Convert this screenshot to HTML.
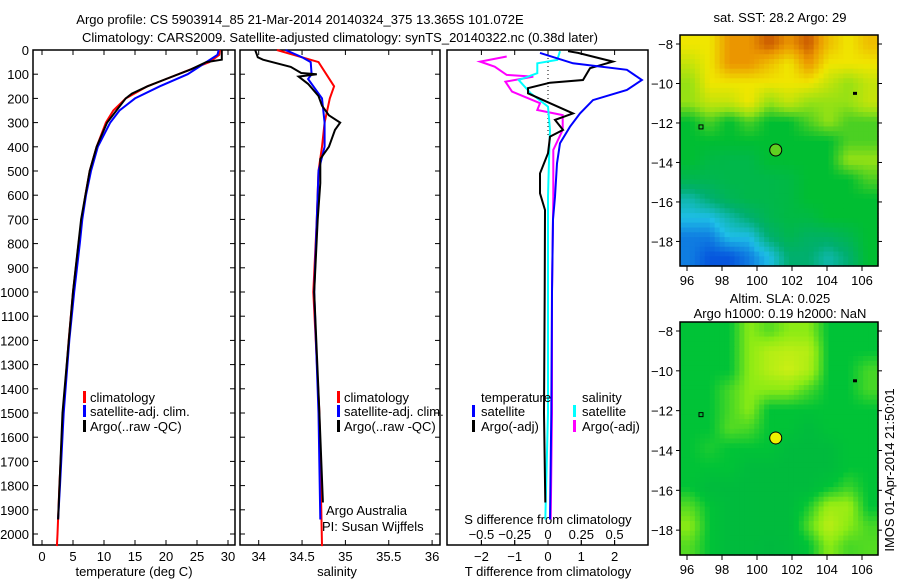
<!DOCTYPE html>
<html><head><meta charset="utf-8"><style>
html,body{margin:0;padding:0;background:#fff;}
svg{display:block;font-family:"Liberation Sans",sans-serif;}
text{font-size:13px;fill:#000;}
</style></head><body>
<svg id="c" width="900" height="580" viewBox="0 0 900 580"></svg>
<script>
// ---------- data ----------
const tempDepth = [0,20,50,100,130,150,200,250,300,400,500,600,700,800,1000,1200,1500,1800,2000,2050];
const tempClim  = [28.7,28.6,27,22,19,17,13.5,11.5,10.3,8.8,7.7,7,6.4,5.9,5,4.3,3.4,2.8,2.5,2.4];
const tempSatDepth = [0,20,50,100,150,200,250,300,400,500,600,700,800,1000,1200,1500,1800,1940];
const tempSat   = [28.5,28.3,26.5,23.5,19,15,12.5,11,9,7.9,7.1,6.5,6.1,5.2,4.4,3.5,2.9,2.6];
const tempArgoDepth = [0,40,50,80,120,150,180,200,300,400,500,700,1000,1500,1940];
const tempArgo  = [29,29,26.5,24,20,17,14.5,13.5,10.5,8.8,7.7,6.3,5,3.3,2.6];

const salClimDepth = [0,50,150,200,300,400,500,700,1000,1500,2050];
const salClim   = [34.21,34.69,34.87,34.82,34.76,34.73,34.69,34.67,34.63,34.7,34.73];
const salSatDepth = [0,30,50,100,120,200,300,400,500,700,1000,1500,1940];
const salSat    = [34.31,34.5,34.6,34.61,34.57,34.73,34.76,34.76,34.69,34.67,34.64,34.69,34.71];
const salArgoDepth = [0,30,40,70,95,100,110,140,190,230,270,300,330,400,450,550,700,1000,1500,1870];
const salArgo   = [33.96,33.99,34.05,34.37,34.49,34.67,34.46,34.57,34.69,34.73,34.81,34.94,34.88,34.81,34.71,34.71,34.68,34.64,34.7,34.74];

const dTSatDepth = [12,55,82,124,165,207,262,317,385,468,606,700,1000,1500,1940];
const dTSat     = [-0.24,0.75,2.37,2.82,2.37,1.35,0.96,0.66,0.36,0.27,0.21,0.15,0.12,0.1,0.06];
const dTArgoDepth = [5,12,48,55,75,124,135,158,179,220,262,289,330,358,427,510,592,661,1000,1500,1870];
const dTArgo    = [0.6,0.9,1.95,1.77,1.26,1.05,0.06,-0.6,-0.6,0.06,0.75,0.21,0.45,0.06,0,-0.24,-0.24,-0.09,-0.1,-0.12,-0.08];
const dSSatDepth = [5,41,55,96,124,179,234,330,413,606,1000,1500,1940];
const dSSat     = [0.09,0.07,-0.08,-0.08,-0.22,-0.13,0,0.015,0.01,0,0,0,-0.02];
const dSArgoDepth = [27,48,69,103,110,131,172,220,248,269,330,413,606,1000,1500,1940];
const dSArgo    = [-0.31,-0.51,-0.4,-0.31,-0.11,-0.32,-0.27,-0.06,-0.08,0.11,0.11,0.04,0.04,0.03,0.03,0.02];

const depthTicks = [0,100,200,300,400,500,600,700,800,900,1000,1100,1200,1300,1400,1500,1600,1700,1800,1900,2000];
const tempTicks = [0,5,10,15,20,25,30];
const salTicks = [34,34.5,35,35.5,36];
const dTTicks = [-2,-1,0,1,2];
const dSTicks = [-0.5,-0.25,0,0.25,0.5];
const lonTicks = [96,98,100,102,104,106];
const latTicks = [-8,-10,-12,-14,-16,-18];

// SST grid rows (north to south), cols (west to east); colour index 0..7
const sstGrid = [
[5,5,6,6,6.5,6,6.5,5.5,5,5.5],
[4.5,5,6,6,5.5,5,6,5,5,5],
[4,5,5,5,5,5,5,4.5,4,4.5],
[4,4.5,4.5,5,4,4.5,4,4,4,4.5],
[3,3.5,3,3.5,3,3,3.5,4,3.5,3.5],
[3,3,3,3,3,3,3,3,3.5,3.5],
[3,2.7,2.6,2.6,3,3,3,3,4,4],
[2.5,2.5,2.6,2.6,2.6,2.7,3,3,3,3.5],
[1.5,2,2.4,2.6,2.6,2.7,3,3,3,3],
[1,1,1.5,2,2.5,2.7,2.7,3,3,3],
[0.5,0.5,1,1,2,2.5,2.2,2.2,2.5,3],
[0.5,0.2,0.2,0.5,1,2,2,1.5,2,3]];
// SLA grid rows; colour index 1..4
const slaGrid = [
[2,2,2,3,2.6,3,3,2,2,2],
[2,2,2,3,3.5,3.6,3.5,2,2,2],
[2,2,2,3,3.5,3.8,3.4,2,2,2.5],
[2,2,2.5,3,3,3,2.5,2,2,2.5],
[2,2,2.5,3,2,2,2,2,2,2],
[2,2,2.6,2.5,2,2,1.6,2,2,2],
[2,2.2,2,2,2,1.6,1.6,1.6,2,2],
[2,2,2,1.6,1.6,1.6,1.6,1.6,2,2],
[2,1.6,1.6,1.6,1.6,1.6,1.6,2,2.4,2],
[2.6,2,1.6,1.6,1.6,1.6,2.2,3.2,3.2,2],
[3,2,1.6,1.6,1.6,1.6,2.6,3.6,3,2.5],
[2.6,2,1.6,1.6,1.5,1.6,2,3,2.5,2.6]];

// ---------- helpers ----------
const NS="http://www.w3.org/2000/svg", svg=document.getElementById('c');
function el(tag,attrs,parent){const e=document.createElementNS(NS,tag);for(const k in attrs)e.setAttribute(k,attrs[k]);(parent||svg).appendChild(e);return e;}
function txt(s,x,y,anchor,parent,size){const t=el('text',{x:x,y:y,'text-anchor':anchor||'start'},parent);if(size)t.style.fontSize=size+'px';t.textContent=s;return t;}
const TOP=50,BOT=545;
const yD=d=>TOP+d*0.242;
const xT=v=>42+v*6.2;
const xS=v=>258.7+(v-34)*86.7;
const xDT=v=>548+v*33.3;
const xDS=v=>548+v*133.2;
function line(depths,vals,xf,color,name,w){
  let p=depths.map((d,i)=>xf(vals[i]).toFixed(1)+','+yD(d).toFixed(1)).join(' ');
  const e=el('polyline',{points:p,fill:'none',stroke:color,'stroke-width':w||2});
  
  
}
function box(x0,x1,name){const r=el('rect',{x:x0,y:TOP,width:x1-x0,height:BOT-TOP,fill:'none',stroke:'#000','stroke-width':1.5});
  }

// titles
let t1=txt('Argo profile: CS 5903914_85 21-Mar-2014 20140324_375 13.365S 101.072E',300,24,'middle');

let t2=txt('Climatology: CARS2009. Satellite-adjusted climatology: synTS_20140322.nc (0.38d later)',340,42,'middle');


// depth ticks
depthTicks.forEach(d=>{const t=txt(String(d),29,yD(d)+5,'end');
  el('line',{x1:33,x2:38,y1:yD(d),y2:yD(d),stroke:'#000'});el('line',{x1:230,x2:235,y1:yD(d),y2:yD(d),stroke:'#000'});
  el('line',{x1:240,x2:245,y1:yD(d),y2:yD(d),stroke:'#000'});el('line',{x1:435,x2:440,y1:yD(d),y2:yD(d),stroke:'#000'});});

// panel 1
box(33,235,'temperature-panel');
tempTicks.forEach(v=>{el('line',{x1:xT(v),x2:xT(v),y1:BOT,y2:BOT-5,stroke:'#000'});el('line',{x1:xT(v),x2:xT(v),y1:TOP,y2:TOP+5,stroke:'#000'});
  const t=txt(String(v),xT(v),561,'middle');});
let a1=txt('temperature (deg C)',134,576,'middle');
line(tempDepth,tempClim,xT,'#f00','temp-climatology-line');
line(tempSatDepth,tempSat,xT,'#00f','temp-satellite-line');
line(tempArgoDepth,tempArgo,xT,'#000','temp-argo-line');
[['climatology','#f00',402],['satellite-adj. clim.','#00f',416],['Argo(..raw -QC)','#000',431]].forEach(l=>{
  el('rect',{x:83,y:l[2]-11,width:3,height:12,fill:l[1]});const t=txt(l[0],90,l[2],'start');});

// panel 2
box(240,440,'salinity-panel');
salTicks.forEach(v=>{el('line',{x1:xS(v),x2:xS(v),y1:BOT,y2:BOT-5,stroke:'#000'});el('line',{x1:xS(v),x2:xS(v),y1:TOP,y2:TOP+5,stroke:'#000'});
  const t=txt(String(v),xS(v),561,'middle');});
let a2=txt('salinity',337,576,'middle');
line(salClimDepth,salClim,xS,'#f00','sal-climatology-line');
line(salSatDepth,salSat,xS,'#00f','sal-satellite-line');
line(salArgoDepth,salArgo,xS,'#000','sal-argo-line');
[['climatology','#f00',402],['satellite-adj. clim.','#00f',416],['Argo(..raw -QC)','#000',431]].forEach(l=>{
  el('rect',{x:337,y:l[2]-11,width:3,height:12,fill:l[1]});const t=txt(l[0],344,l[2],'start');});
let aa=txt('Argo Australia',326,515,'start');
let pi=txt('PI: Susan Wijffels',322,531,'start');

// panel 3
box(447,648,'difference-panel');
dTTicks.forEach(v=>{el('line',{x1:xDT(v),x2:xDT(v),y1:BOT,y2:BOT-5,stroke:'#000'});el('line',{x1:xDT(v),x2:xDT(v),y1:TOP,y2:TOP+5,stroke:'#000'});
  const t=txt(String(v).replace('-','\u2212'),xDT(v),561,'middle');});
dSTicks.forEach(v=>{el('line',{x1:xDS(v),x2:xDS(v),y1:BOT,y2:BOT-5,stroke:'#000'});
  const t=txt(String(v).replace('-','\u2212'),xDS(v),539,'middle');});
let a3=txt('T difference from climatology',548,576,'middle');
let a4=txt('S difference from climatology',548,524,'middle');
el('line',{x1:548,x2:548,y1:TOP,y2:yD(360),stroke:'#000','stroke-dasharray':'1,3'});
line(dSArgoDepth,dSArgo,xDS,'#f0f','sdiff-argo-line');
line(dSSatDepth,dSSat,xDS,'#0ff','sdiff-satellite-line');
line(dTArgoDepth,dTArgo,xDT,'#000','tdiff-argo-line');
line(dTSatDepth,dTSat,xDT,'#00f','tdiff-satellite-line');
let lt=txt('temperature',481,402);
let ls=txt('salinity',582,402);
[['satellite','#00f',472,416],['Argo(-adj)','#000',472,431],['satellite','#0ff',573,416],['Argo(-adj)','#f0f',573,431]].forEach(l=>{
  el('rect',{x:l[2],y:l[3]-11,width:3,height:12,fill:l[1]});const t=txt(l[0],l[2]+9,l[3],'start');});

// ---------- maps ----------
function lerp(a,b,t){return Math.round(a+(b-a)*t);}
function cmap(stops,v){v=Math.max(0,Math.min(stops.length-1,v));const i=Math.min(stops.length-2,Math.floor(v)),t=v-i;const a=stops[i],b=stops[i+1];
  return 'rgb('+lerp(a[0],b[0],t)+','+lerp(a[1],b[1],t)+','+lerp(a[2],b[2],t)+')';}
function sample(grid,fr,fc){const R=grid.length,C=grid[0].length;
  fr=Math.max(0,Math.min(R-1,fr));fc=Math.max(0,Math.min(C-1,fc));
  const r0=Math.min(R-2,Math.floor(fr)),c0=Math.min(C-2,Math.floor(fc)),tr=fr-r0,tc=fc-c0;
  const a=grid[r0][c0]*(1-tc)+grid[r0][c0+1]*tc,b=grid[r0+1][c0]*(1-tc)+grid[r0+1][c0+1]*tc;return a*(1-tr)+b*tr;}
const sstStops=[[0,60,220],[30,190,230],[0,175,110],[0,190,50],[150,225,20],[240,230,0],[235,150,0],[170,30,0]];
const slaStops=[[0,160,80],[0,175,70],[0,195,55],[140,235,20],[220,240,20]];
function drawMap(y0,y1,grid,stops,name,dotColor){
  const x0=680,x1=878;
  const g=el('g',{});
  const lonX=l=>687+(l-96)*17.5;
  const sc=(y1-y0)/11.7;
  const latY=la=>y0+9+(-8-la)*sc;
  const rows=grid.length,cols=grid[0].length,N=4,cw=(x1-x0)/(cols*N),ch=(y1-y0)/(rows*N);
  for(let r=0;r<rows*N;r++)for(let c=0;c<cols*N;c++){
    const v=sample(grid,(r+0.5)/N-0.5,(c+0.5)/N-0.5);
    const cell=el('rect',{x:(x0+c*cw).toFixed(2),y:(y0+r*ch).toFixed(2),width:(cw+0.6).toFixed(2),height:(ch+0.6).toFixed(2),fill:cmap(stops,v)},g);
    
    
  }
  el('rect',{x:x0,y:y0,width:x1-x0,height:y1-y0,fill:'none',stroke:'#000','stroke-width':1.5},g);
  lonTicks.forEach(l=>{el('line',{x1:lonX(l),x2:lonX(l),y1:y1,y2:y1+5,stroke:'#000'},g);const t=txt(String(l),lonX(l),y1+19,'middle',g);});
  latTicks.forEach(la=>{el('line',{x1:x0-4,x2:x0,y1:latY(la),y2:latY(la),stroke:'#000'},g);el('line',{x1:x1,x2:x1+4,y1:latY(la),y2:latY(la),stroke:'#000'},g);
    const t=txt(String(la).replace('-','\u2212'),x0-7,latY(la)+5,'end',g);});
  const c=el('circle',{cx:lonX(101.07),cy:latY(-13.37),r:6,fill:dotColor,stroke:'#000'},g);
  el('rect',{x:lonX(105.6)-2,y:latY(-10.5)-1.5,width:4,height:3,fill:'#000'},g);
  el('rect',{x:lonX(96.8)-2,y:latY(-12.2)-2,width:4,height:4,fill:'none',stroke:'#000'},g);
}
drawMap(35,266,sstGrid,sstStops,'sst-map','#60d020');
drawMap(322,555,slaGrid,slaStops,'sla-map','#f0f000');
let m1=txt('sat. SST: 28.2 Argo: 29',780,22,'middle');
let m2=txt('Altim. SLA: 0.025',780,303,'middle');
let m3=txt('Argo h1000: 0.19 h2000: NaN',780,318,'middle');
let im=txt('IMOS 01-Apr-2014 21:50:01',0,0,'middle');im.setAttribute('transform','translate(894,470) rotate(-90)');

</script>
</body></html>
